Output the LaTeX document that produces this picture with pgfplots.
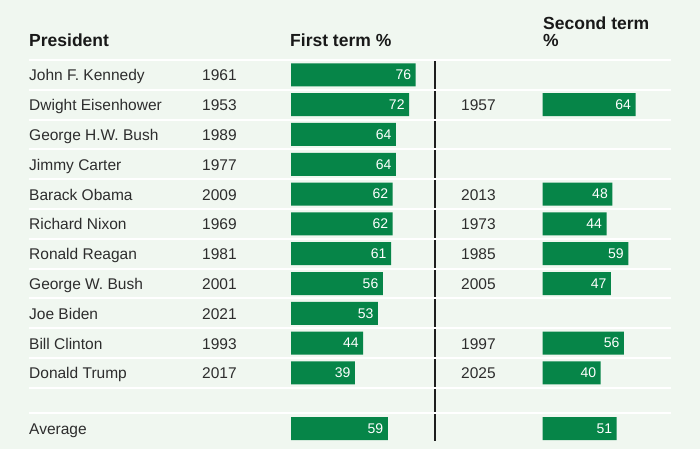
\documentclass[border=0pt]{standalone}
\usepackage{pgfplots}
\pgfplotsset{compat=1.18}
\usepackage{fontspec}
\setmainfont{Liberation Sans}
\definecolor{bgc}{RGB}{240,247,240}
\definecolor{barc}{RGB}{6,133,72}
\definecolor{txt}{RGB}{45,45,45}
\definecolor{rule}{RGB}{30,30,30}

\pgfplotstableread{
val y
76 74.9
72 104.7
64 134.5
64 164.3
62 194.1
62 223.9
61 253.7
56 283.5
53 313.3
44 343.1
39 372.9
59 428.5
}\firstterm

\pgfplotstableread{
val y
64 104.7
48 194.1
44 223.9
59 253.7
47 283.5
56 343.1
40 372.9
51 428.5
}\secondterm

\pgfplotsset{
  barax/.style={
    at={(0,0)}, anchor=south west, scale only axis,
    width=700pt, height=449pt, hide axis, clip=false,
    ymin=0, ymax=449, y dir=reverse,
    xbar, bar width=23pt,
    nodes near coords, point meta=x,
    /pgf/number format/assume math mode=true,
    every node near coord/.append style={anchor=east, text=white,
      font=\fontsize{14}{14}\selectfont, xshift=-1pt},
  },
}

\begin{document}
\begin{tikzpicture}
\fill[bgc] (0,0) rectangle (700pt,449pt);
\begin{scope}[x=1pt,y=-1pt,yshift=449pt]
  \draw[rule, line width=2pt] (435,60) -- (435,441);
  \foreach \k in {0,...,11}
    \draw[white, line width=2pt] (29,{60+29.8*\k}) -- (671,{60+29.8*\k});
  \draw[white, line width=2pt] (29,413) -- (671,413);
  % headers
  \begin{scope}[every node/.style={anchor=base west, inner sep=0pt,
      font=\fontsize{17.5}{17.5}\selectfont\bfseries, text=black!90}]
    \node at (29,47) {President};
    \node at (290,47) {First term \%};
    \node at (543,30) {Second term};
    \node at (543,47) {\%};
  \end{scope}
  \begin{scope}[every node/.style={anchor=base west, inner sep=0pt,
      font=\fontsize{15.5}{15.5}\selectfont, text=txt}]
    \foreach \n [count=\i from 0] in {John F. Kennedy, Dwight Eisenhower,
        George H.W. Bush, Jimmy Carter, Barack Obama, Richard Nixon,
        Ronald Reagan, George W. Bush, Joe Biden, Bill Clinton, Donald Trump}
      \node at (29,{74.9+29.8*\i+6}) {\n};
    \foreach \n [count=\i from 0] in {1961,1953,1989,1977,2009,1969,1981,2001,2021,1993,2017}
      \node at (202,{74.9+29.8*\i+6}) {\n};
    \foreach \i/\n in {1/1957,4/2013,5/1973,6/1985,7/2005,9/1997,10/2025}
      \node at (461,{74.9+29.8*\i+6}) {\n};
    \node at (29,434.5) {Average};
  \end{scope}
\end{scope}

\begin{axis}[barax, xmin=-177.44, xmax=249.39]
  \addplot[fill=barc, draw=none] table[x=val, y=y] {\firstterm};
\end{axis}

\begin{axis}[barax, xmin=-374.28, xmax=108.48]
  \addplot[fill=barc, draw=none] table[x=val, y=y] {\secondterm};
\end{axis}
\end{tikzpicture}
\end{document}
